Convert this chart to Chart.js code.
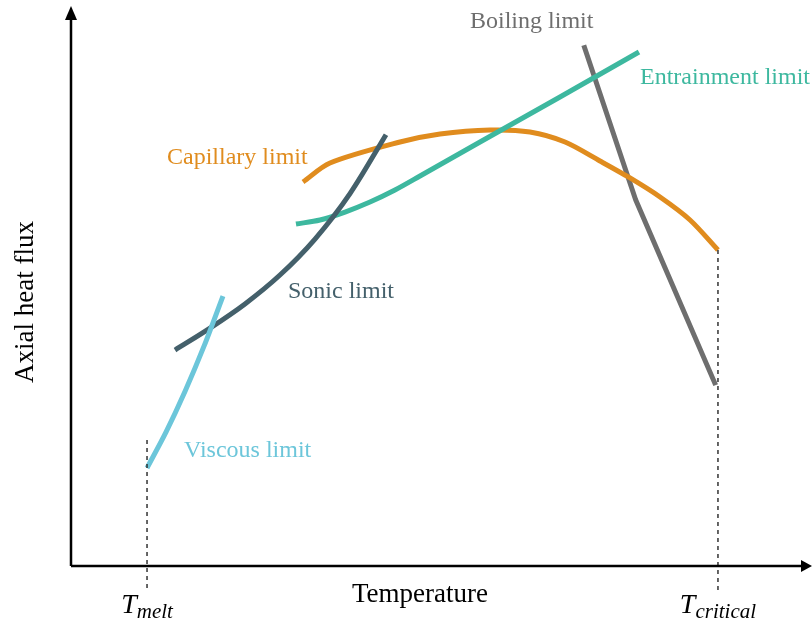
<!DOCTYPE html>
<html>
<head>
<meta charset="utf-8">
<script src="https://cdn.jsdelivr.net/npm/chart.js@4/dist/chart.umd.min.js"></script>
<style>
  html, body { margin: 0; padding: 0; background: #ffffff; }
  #wrap { width: 812px; height: 623px; }
</style>
</head>
<body>
<div id="wrap"><canvas id="c" width="812" height="623"></canvas></div>
<script>
// Operating limits of a heat pipe: axial heat flux vs. temperature (arbitrary units 0-100)
const viscousT  = [10.26, 12.82, 15.38, 17.95, 20.51];
const viscousQ  = [17.5, 23.91, 31.16, 39.25, 48.21];

const sonicT    = [14.04, 18.76, 23.48, 28.20, 32.93, 37.65, 42.51];
const sonicQ    = [38.57, 42.48, 46.80, 51.96, 58.39, 66.50, 77.02];

const capillaryT = [31.31, 34.95, 44.40, 49.80, 56.55, 61.94, 66.67, 71.39, 75.44, 79.49, 83.54, 87.31];
const capillaryQ = [68.57, 71.96, 75.71, 77.14, 77.86, 77.5, 75.71, 72.32, 69.29, 65.89, 61.79, 56.43];

const entrainT  = [30.36, 33.6, 36.98, 40.35, 43.72, 47.10, 55.20, 65.99, 76.65];
const entrainQ  = [61.07, 61.79, 63.21, 65.0, 67.14, 69.64, 75.71, 83.75, 91.79];

const boilingT  = [69.2, 76.2, 87.0];
const boilingQ  = [93.0, 65.4, 32.3];

// Temperature bounds marked on the horizontal axis
const boundT    = [10.26, 87.31];
const boundTop  = [22.5, 56.43];
const boundSub  = ['melt', 'critical'];
const boundLow  = -4.3;

// Curve names and where their labels sit (temperature, heat flux at text baseline)
const curveNames  = ['Boiling limit', 'Entrainment limit', 'Capillary limit', 'Sonic limit', 'Viscous limit'];
const labelT      = [53.85, 76.79, 12.96, 29.28, 15.25];
const labelQ      = [96.07, 86.07, 71.79, 47.86, 19.46];

const xTitle = 'Temperature';
const yTitle = 'Axial heat flux';

const colors = {
  viscous: '#6cc6da',
  sonic: '#44606b',
  capillary: '#e08c1e',
  entrain: '#3db89f',
  boiling: '#6e6e6e'
};
const labelColors = [colors.boiling, colors.entrain, colors.capillary, colors.sonic, colors.viscous];

const pts = (xs, ys) => xs.map((x, i) => ({ x: x, y: ys[i] }));

function curve(xs, ys, color, tension) {
  return {
    data: pts(xs, ys),
    showLine: true,
    borderColor: color,
    borderWidth: 5,
    borderCapStyle: 'butt',
    borderJoinStyle: 'round',
    pointRadius: 0,
    tension: tension,
    fill: false
  };
}

const boundDatasets = boundT.map((t, i) => ({
  data: [{ x: t, y: boundTop[i] }, { x: t, y: boundLow }],
  showLine: true,
  borderColor: '#333333',
  borderWidth: 1.5,
  borderDash: [4, 4],
  pointRadius: 0,
  clip: false
}));

const decorations = {
  id: 'decorations',
  afterDraw(chart) {
    const ctx = chart.ctx;
    const a = chart.chartArea;
    const xs = chart.scales.x, ys = chart.scales.y;
    ctx.save();

    // axes with arrowheads
    ctx.strokeStyle = '#000';
    ctx.fillStyle = '#000';
    ctx.lineWidth = 2.5;
    ctx.beginPath();
    ctx.moveTo(a.left, a.bottom);
    ctx.lineTo(a.right - 8, a.bottom);
    ctx.moveTo(a.left, a.bottom);
    ctx.lineTo(a.left, a.top + 12);
    ctx.stroke();
    ctx.beginPath();
    ctx.moveTo(a.right, a.bottom);
    ctx.lineTo(a.right - 11, a.bottom - 6);
    ctx.lineTo(a.right - 11, a.bottom + 6);
    ctx.closePath();
    ctx.fill();
    ctx.beginPath();
    ctx.moveTo(a.left, a.top);
    ctx.lineTo(a.left - 6, a.top + 14);
    ctx.lineTo(a.left + 6, a.top + 14);
    ctx.closePath();
    ctx.fill();

    // curve labels
    ctx.font = '24px "Liberation Serif", "Times New Roman", serif';
    ctx.textBaseline = 'alphabetic';
    ctx.textAlign = 'left';
    curveNames.forEach((name, i) => {
      ctx.fillStyle = labelColors[i];
      ctx.fillText(name, xs.getPixelForValue(labelT[i]), ys.getPixelForValue(labelQ[i]));
    });

    // axis titles
    ctx.fillStyle = '#000';
    ctx.font = '27px "Liberation Serif", "Times New Roman", serif';
    ctx.textAlign = 'center';
    ctx.fillText(xTitle, 420, 602);
    ctx.save();
    ctx.translate(33, 302);
    ctx.rotate(-Math.PI / 2);
    ctx.fillText(yTitle, 0, 0);
    ctx.restore();

    // T_melt / T_critical under the axis
    ctx.textAlign = 'left';
    boundT.forEach((t, i) => {
      const cx = xs.getPixelForValue(t);
      const bigFont = 'italic 28px "Liberation Serif", "Times New Roman", serif';
      const subFont = 'italic 21px "Liberation Serif", "Times New Roman", serif';
      ctx.font = bigFont;
      const wT = ctx.measureText('T').width;
      ctx.font = subFont;
      const wS = ctx.measureText(boundSub[i]).width;
      const left = cx - (wT + wS) / 2;
      ctx.font = bigFont;
      ctx.fillText('T', left, 613);
      ctx.font = subFont;
      ctx.fillText(boundSub[i], left + wT, 618);
    });

    ctx.restore();
  }
};

new Chart(document.getElementById('c'), {
  type: 'scatter',
  data: {
    datasets: [
      ...boundDatasets,
      curve(viscousT, viscousQ, colors.viscous, 0.3),
      curve(sonicT, sonicQ, colors.sonic, 0.3),
      curve(entrainT, entrainQ, colors.entrain, 0.3),
      curve(capillaryT, capillaryQ, colors.capillary, 0.3),
      curve(boilingT, boilingQ, colors.boiling, 0)
    ]
  },
  options: {
    responsive: false,
    animation: false,
    devicePixelRatio: 1,
    layout: { padding: { left: 71, right: 0, top: 6, bottom: 57 } },
    plugins: { legend: { display: false }, tooltip: { enabled: false } },
    scales: {
      x: { type: 'linear', min: 0, max: 100, display: false },
      y: { type: 'linear', min: 0, max: 100, display: false }
    }
  },
  plugins: [decorations]
});
</script>
</body>
</html>
